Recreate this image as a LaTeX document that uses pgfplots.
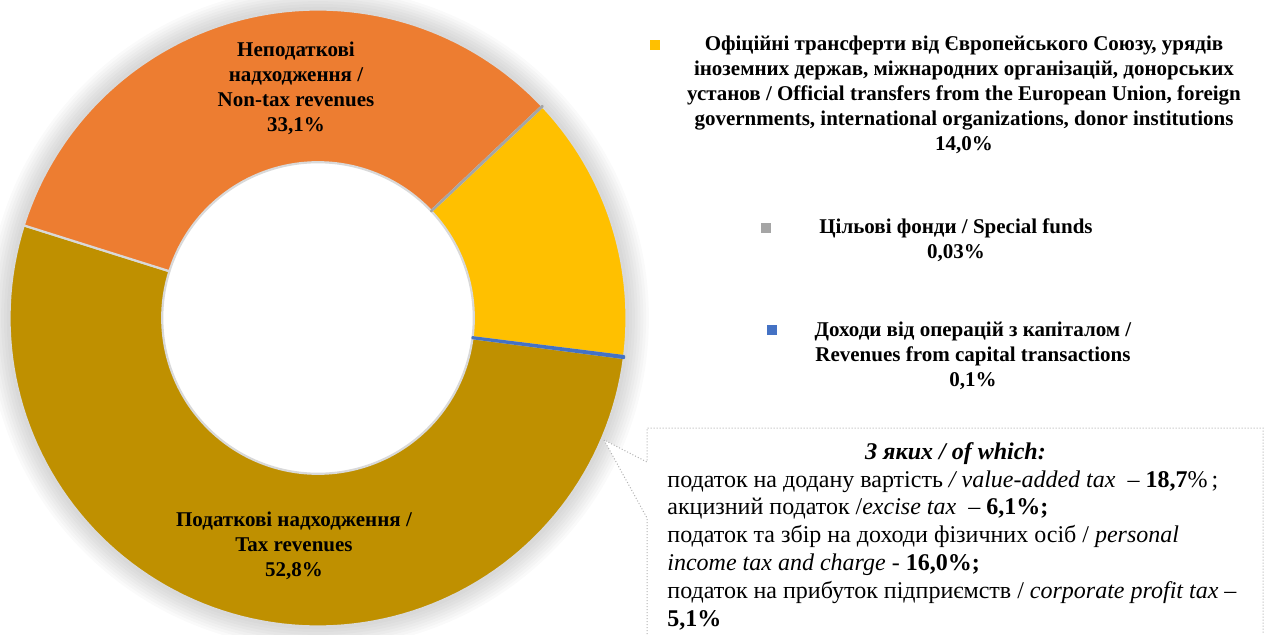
\documentclass[border=0pt]{standalone}
\usepackage{pgfplots}
\usepackage{pgfplotstable}
\usepackage{fontspec}
\setmainfont{Liberation Serif}[
  BoldFont={Liberation Serif Bold},
  ItalicFont={Liberation Serif Italic},
  BoldItalicFont={Liberation Serif Bold Italic}]
\pgfplotsset{compat=1.18}

\definecolor{cTax}{HTML}{BF9000}
\definecolor{cNonTax}{HTML}{ED7D31}
\definecolor{cOfficial}{HTML}{FFC000}
\definecolor{cSpecial}{HTML}{A5A5A5}
\definecolor{cCapital}{HTML}{4472C4}
\definecolor{sep}{HTML}{D9D9D9}

% shares of revenues, %, in clockwise order from the top right
\pgfplotstableread[col sep=comma]{
name,value
special,0.03
official,14.0
capital,0.1
tax,52.8
nontax,33.1
}\shares

\newcommand\getv[2]{\pgfplotstablegetelem{#1}{value}\of\shares\xdef#2{\pgfplotsretval}}
\getv{0}\vSpecial
\getv{1}\vOfficial
\getv{2}\vCapital
\getv{3}\vTax
\getv{4}\vNonTax
\pgfmathsetmacro\tot{\vSpecial+\vOfficial+\vCapital+\vTax+\vNonTax}
\pgfmathsetmacro\aSpecial{43.4}
\pgfmathsetmacro\aOfficial{\aSpecial-3.6*(\vSpecial/\tot)*100}
\pgfmathsetmacro\aCapital{\aOfficial-3.6*(\vOfficial/\tot)*100}
\pgfmathsetmacro\aTax{\aCapital-3.6*(\vCapital/\tot)*100}
\pgfmathsetmacro\aNonTax{\aTax-3.6*(\vTax/\tot)*100}
\pgfmathsetmacro\aEnd{\aNonTax-3.6*(\vNonTax/\tot)*100}
\def\ri{0.505}

% ring sector from angle #1 to #2: outer arc, radial edge, inner arc back
\newcommand\slice[4]{%
  \addplot[fill=#3, draw=#4, domain=0:3, samples=301, variable=\t, line join=round]
    ({(1-(1-\ri)*min(max(\t-1,0),1))*cos(#1+(#2-#1)*min(\t,1)-(#2-#1)*max(\t-2,0))},
     {(1-(1-\ri)*min(max(\t-1,0),1))*sin(#1+(#2-#1)*min(\t,1)-(#2-#1)*max(\t-2,0))}) -- cycle;}

\begin{document}
\begin{tikzpicture}
\begin{axis}[
    x=154.25pt, y=154.25pt,
    xmin=-1.0308, xmax=3.0924,
    ymin=-1.0243, ymax=1.0308,
    hide axis, clip=false,
  ]
  % soft glow round the ring
  \pgfplotsinvokeforeach{1,...,8}{
    \fill[black, opacity=0.02] (axis cs:0,0) circle [radius=154.25pt+#1*1.4pt];
  }
  \fill[white] (axis cs:0,0) circle [radius=154.25pt];
  \pgfplotsset{every axis plot/.append style={line width=1.5pt}}
  \slice{\aOfficial}{\aCapital}{cOfficial}{sep}
  \slice{\aTax}{\aNonTax}{cTax}{sep}
  \slice{\aNonTax}{\aEnd}{cNonTax}{sep}
  \pgfplotsset{every axis plot/.append style={line width=1.1pt}}
  \slice{\aSpecial}{\aOfficial}{cSpecial}{cSpecial}
  \slice{\aCapital}{\aTax}{cCapital}{cCapital}
\end{axis}

\begin{scope}[shift={(current axis.north west)}, x=0.5pt, y=-0.5pt,
    every node/.style={font=\bfseries\fontsize{10.5}{12.5}\selectfont, align=center, inner sep=0pt}]
  % labels in the ring
  \node at (296,88) {Неподаткові\\надходження /\\Non-tax revenues\\33,1\%};
  \node at (294,546) {Податкові надходження /\\Tax revenues\\52,8\%};
  % legend-like labels
  \fill[cOfficial] (650,40) rectangle (660,50);
  \node at (964,95) {Офіційні трансферти від Європейського Союзу, урядів\\
    іноземних держав, міжнародних організацій, донорських\\
    установ / Official transfers from the European Union, foreign\\
    governments, international organizations, donor institutions\\14,0\%};
  \fill[cSpecial] (761,223) rectangle (771,233);
  \node at (956,240) {Цільові фонди / Special funds\\0,03\%};
  \fill[cCapital] (767,325) rectangle (777,335);
  \node at (973,356) {Доходи від операцій з капіталом /\\Revenues from capital transactions\\0,1\%};
  % callout
  \fill[white] (647,634) -- (647,518) -- (604,440) -- (647,462) -- (647,428)
    -- (1263,428) -- (1263,634) -- cycle;
  \draw[gray!60, densely dotted, line width=0.5pt] (647,634) -- (647,518) -- (604,440)
    -- (647,462) -- (647,428) -- (1263,428) -- (1263,634);
  \node[anchor=north west, align=left, font=\fontsize{12}{13.9}\selectfont] at (667,442) {%
    \makebox[288pt][c]{\textbf{\textit{З яких / of which:}}}\\
    податок на додану вартість \textit{/ value-added tax}~ – \textbf{18,7}\%\,;\\
    акцизний податок /\textit{excise tax}~ – \textbf{6,1\%;}\\
    податок та збір на доходи фізичних осіб / \textit{personal}\\
    \textit{income tax and charge} - \textbf{16,0\%;}\\
    податок на прибуток підприємств / \textit{corporate profit tax} –\\
    \textbf{5,1\%}};
  \pgfresetboundingbox
  \path (0,0) rectangle (1272,634);
\end{scope}
\end{tikzpicture}
\end{document}
